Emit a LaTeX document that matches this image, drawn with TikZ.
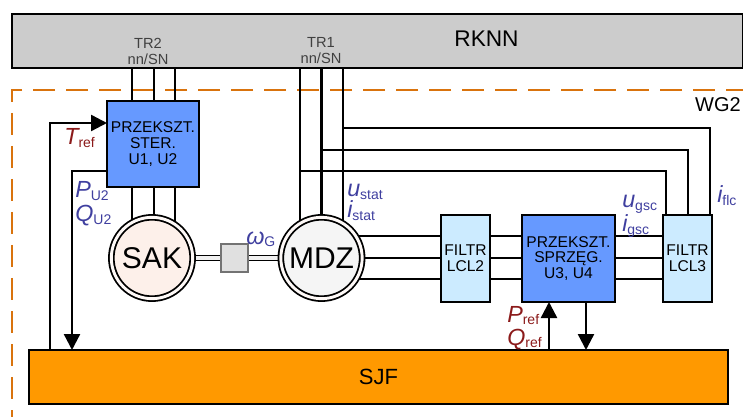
\documentclass[tikz,border=0pt]{standalone}
\usepackage{fontspec}
\setmainfont{Liberation Sans}
\usetikzlibrary{arrows.meta,backgrounds}
\definecolor{gridgray}{HTML}{CCCCCC}
\definecolor{convblue}{HTML}{6699FF}
\definecolor{filterblue}{HTML}{CCEBFF}
\definecolor{sjforange}{HTML}{FF9900}
\definecolor{wgorange}{HTML}{D9730D}
\definecolor{labblue}{HTML}{3F3F9F}
\definecolor{labred}{HTML}{8B1A1A}
\definecolor{sakpink}{HTML}{FDF0EA}
\definecolor{mdzgray}{HTML}{F5F5F5}
\newcommand{\symb}[2]{{\fontsize{17.5}{18}\selectfont\itshape #1}{\fontsize{10.5}{12}\selectfont\raisebox{-2.2pt}{#2}}}
\tikzset{
  block/.style={draw=black, line width=1.9pt, inner sep=0pt, outer sep=0pt, align=center, font=\fontsize{11.7}{11.7}\selectfont},
  bar/.style={block, line width=1.8pt},
  motor/.style={circle, draw=black, double distance=2.2pt, line width=1.35pt, inner sep=0pt, outer sep=0pt, minimum size=61pt, font=\fontsize{22.5}{24}\selectfont},
  wire/.style={draw=black, line width=1.8pt},
  lab/.style={anchor=base west, inner sep=0pt, text=labblue},
  refl/.style={anchor=base west, inner sep=0pt, text=labred},
  tag/.style={align=center, inner sep=0pt, text=black!75, font=\fontsize{11}{12}\selectfont},
}
\begin{document}
\begin{tikzpicture}[x=0.75pt, y=-0.75pt, >={Triangle[length=12pt,width=12pt]}]
  \useasboundingbox (0,0) rectangle (743,417);
  \node[bar, fill=gridgray, minimum width=548.6pt, minimum height=40.5pt] (rknn) at (377.75,41) {};
  \node[font=\fontsize{17}{18}\selectfont, inner sep=0pt] (rknnlab) at (486.5,39) {RKNN};
  \node[tag] (tr2) at (148,51) {TR2\\nn/SN};
  \node[tag] (tr1) at (321,51) {TR1\\nn/SN};
  \node[bar, fill=sjforange, minimum width=524.25pt, minimum height=40.5pt, font=\fontsize{16.5}{17}\selectfont] (sjf) at (378.5,377) {SJF};
  \node[block, fill=convblue, minimum width=69pt, minimum height=64.5pt] (ster) at (153,144) {PRZEKSZT.\\STER.\\U1, U2};
  \node[block, fill=convblue, minimum width=69.75pt, minimum height=65.25pt] (sprz) at (568.5,258.5) {PRZEKSZT.\\SPRZĘG.\\U3, U4};
  \node[block, fill=filterblue, minimum width=36.75pt, minimum height=65.25pt] (lcltwo) at (465.5,258.5) {FILTR\\LCL2};
  \node[block, fill=filterblue, minimum width=36.75pt, minimum height=65.25pt] (lclthree) at (687.5,258.5) {FILTR\\LCL3};
  \node[motor, fill=sakpink, double=sakpink!40] (sak) at (152,258) {SAK};
  \node[motor, fill=mdzgray, double=sakpink!40] (mdz) at (321.5,258) {MDZ};
  \node[draw=black!55, fill=black!12, line width=0.9pt, minimum width=20.25pt, minimum height=21pt, inner sep=0pt, outer sep=0pt] (gear) at (234.5,258) {};
  \coordinate (tapA) at (300,171);
  \coordinate (tapB) at (321.5,150);
  \coordinate (tapC) at (343,128);
  \coordinate (wgstart) at (743,90);
  \coordinate (wgcorner) at (12,90);
  \coordinate (wgend) at (12,417);
  \begin{scope}[on background layer]
    \draw[wgorange, line width=1.7pt, dash pattern=on 16.5pt off 8.25pt, dash phase=3.75pt] (wgstart) -- (wgcorner) -- (wgend);
    \foreach \x in {132,154,175} {
      \draw[wire] (rknn.south -| \x,0) -- (ster.north -| \x,0);
      \draw[wire] (ster.south -| \x,0) -- (sak.center -| \x,0);
    }
    \foreach \x in {300,321.5,343} {
      \draw[wire] (rknn.south -| \x,0) -- (mdz.center -| \x,0);
    }
    \draw[wire] (tapA) -| (lclthree.north -| 666,0);
    \draw[wire] (tapB) -| (lclthree.north -| 688,0);
    \draw[wire] (tapC) -| (lclthree.north -| 710,0);
    \foreach \y in {236,258,279} {
      \draw[wire] (mdz.center |- 0,\y) -- (lcltwo.west |- 0,\y);
      \draw[wire] (lcltwo.east |- 0,\y) -- (sprz.west |- 0,\y);
      \draw[wire] (sprz.east |- 0,\y) -- (lclthree.west |- 0,\y);
    }
    \draw[draw=black, line width=1pt, double=black!6, double distance=2.8pt] (sak.center) -- (mdz.center);
  \end{scope}
  \draw[wire, ->] (sjf.north -| 50,0) |- (ster.west |- 0,123);
  \draw[wire, ->] (ster.west |- 0,171) -| (sjf.north -| 72,0);
  \draw[wire, ->] (sjf.north -| 549,0) -- (sprz.south -| 549,0);
  \draw[wire, ->] (sprz.south -| 586,0) -- (sjf.north -| 586,0);
  \node[refl] (tref) at (64,145) {\symb{T}{ref}};
  \node[lab] (pu) at (75,198) {\symb{P}{U2}};
  \node[lab] (qu) at (75,222) {\symb{Q}{U2}};
  \node[lab] (ustat) at (347,197) {\symb{u}{stat}};
  \node[lab] (istat) at (347,218) {\symb{i}{stat}};
  \node[lab] (omg) at (246,244) {\symb{ω}{G}};
  \node[lab] (ugsc) at (622,208) {\symb{u}{gsc}};
  \node[lab] (igsc) at (622,232) {\symb{i}{gsc}};
  \node[lab] (iflc) at (717,203) {\symb{i}{flc}};
  \node[refl] (pref) at (507,322) {\symb{P}{ref}};
  \node[refl] (qref) at (507,345) {\symb{Q}{ref}};
  \node[inner sep=0pt, font=\fontsize{15}{16}\selectfont] (wg) at (718,105) {WG2};
\end{tikzpicture}
\end{document}
